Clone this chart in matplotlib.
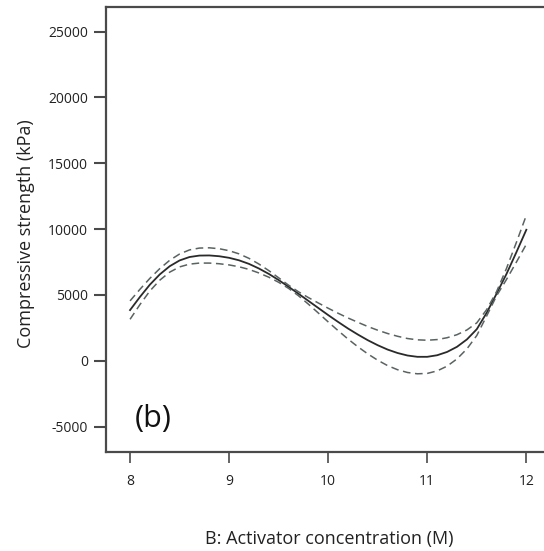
import matplotlib
matplotlib.use("Agg")
import matplotlib.pyplot as plt

# Activator concentration (M)
conc = [8.0, 8.1, 8.2, 8.3, 8.4, 8.5, 8.6, 8.7, 8.8, 8.9,
        9.0, 9.1, 9.2, 9.3, 9.4, 9.5, 9.6, 9.7, 9.8, 9.9,
        10.0, 10.1, 10.2, 10.3, 10.4, 10.5, 10.6, 10.7, 10.8, 10.9,
        11.0, 11.1, 11.2, 11.3, 11.4, 11.5, 11.6, 11.7, 11.8, 11.9, 12.0]

# predicted compressive strength (kPa)
strength = [3850, 4850, 5780, 6560, 7180, 7620, 7880, 7990, 8000, 7940,
            7820, 7630, 7360, 7010, 6600, 6130, 5620, 5090, 4550, 4010,
            3470, 2950, 2450, 1990, 1560, 1180, 850, 590, 400, 300,
            300, 420, 670, 1060, 1620, 2400, 3650, 5100, 6600, 8250, 9950]

# 95% confidence band
upper = [4550, 5430, 6260, 7000, 7630, 8110, 8420, 8560, 8580, 8510,
         8360, 8120, 7780, 7350, 6850, 6300, 5740, 5240, 4800, 4390,
         3990, 3610, 3250, 2920, 2600, 2320, 2070, 1860, 1690, 1590,
         1560, 1610, 1750, 1980, 2340, 2880, 3890, 5260, 7020, 9000, 11050]
lower = [3150, 4270, 5300, 6120, 6730, 7130, 7340, 7420, 7420, 7370,
         7280, 7140, 6940, 6670, 6350, 5960, 5500, 4940, 4300, 3630,
         2950, 2290, 1650, 1060, 520, 40, -370, -680, -890, -990,
         -960, -770, -410, 140, 900, 1920, 3410, 4940, 6180, 7500, 8850]

x_ticks = [8, 9, 10, 11, 12]
y_ticks = [-5000, 0, 5000, 10000, 15000, 20000, 25000]

plt.rcParams["font.family"] = ["Open Sans", "DejaVu Sans"]

fig = plt.figure(figsize=(5.44, 5.51), dpi=100)
ax = fig.add_axes([0.195, 0.18, 0.835, 0.808])

ax.plot(conc, strength, "-", color="#2a2a2a", linewidth=1.3)
ax.plot(conc, upper, "--", color="#596363", linewidth=1.1, dashes=(5, 3))
ax.plot(conc, lower, "--", color="#596363", linewidth=1.1, dashes=(5, 3))

ax.set_xlim(7.758, 12.343)
ax.set_ylim(-6916, 26900)
ax.set_xticks(x_ticks)
ax.set_yticks(y_ticks)
ax.set_xticklabels([str(t) for t in x_ticks])
ax.set_yticklabels([str(t) for t in y_ticks])

for side in ["top", "left", "bottom"]:
    ax.spines[side].set_color("#4a4a4a")
    ax.spines[side].set_linewidth(1.6)
ax.spines["right"].set_visible(False)

ax.tick_params(axis="y", direction="out", length=9, width=1.5, color="#4a4a4a",
               labelsize=10, pad=4, labelcolor="#222222")
ax.tick_params(axis="x", direction="out", length=8, width=1.2, color="#4a4a4a",
               labelsize=10, pad=8, labelcolor="#222222")

ax.set_ylabel("Compressive strength (kPa)", fontsize=13, color="#222222")
ax.yaxis.set_label_coords(-0.157, 0.49)
ax.set_xlabel("B: Activator concentration (M)", fontsize=13, color="#222222")
ax.xaxis.set_label_coords((329 - 106) / (560 - 106), -0.175)

ax.text(8.05, -4400, "(b)", fontsize=22, color="#111111", ha="left", va="center")

fig.savefig("out.png", dpi=100)
plt.close(fig)
